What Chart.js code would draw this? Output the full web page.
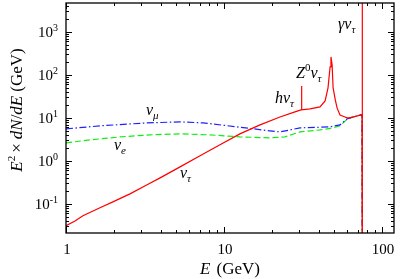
<!DOCTYPE html>
<html>
<head>
<meta charset="utf-8">
<script src="https://cdn.jsdelivr.net/npm/chart.js@4.4.1/dist/chart.umd.min.js"></script>
<style>
  html, body { margin: 0; padding: 0; background: #fff; }
  canvas { display: block; }
</style>
</head>
<body>
<canvas id="chart" width="400" height="279"></canvas>
<script>
// --- Data (E in GeV, E^2 dN/dE in GeV) ---
const tauE = [1.0, 1.14, 1.28, 1.64, 1.98, 2.54, 3.26, 3.94, 5.27, 7.05, 9.43, 12.6, 16.9, 22.6, 28.1, 30.7, 30.9, 31.1, 35.0, 40.5, 43.6, 45.5, 46.9, 47.5, 48.3, 49.0, 50.6, 51.9, 54.2, 58.3, 60.0, 62.7, 73.6, 74.7, 75.0, 75.0];
const tauFlux = [0.031, 0.040, 0.053, 0.081, 0.111, 0.171, 0.277, 0.402, 0.725, 1.31, 2.36, 4.25, 6.88, 10.5, 13.8, 15.3, 55, 15.4, 16.2, 18.0, 24.8, 49.9, 153, 262, 171, 49.9, 26.2, 17.1, 11.7, 10.5, 10.0, 10.0, 11.7, 12.0, 1e5, 1e-4];

const muE = [1.0, 1.64, 3.26, 5.27, 7.36, 12.1, 19.5, 22.6, 26.2, 30.3, 46.9, 54.2, 60.0, 62.7, 73.6, 74.7, 75.0];
const muFlux = [5.55, 6.52, 7.65, 8.07, 7.65, 6.18, 4.99, 4.72, 5.26, 5.85, 6.18, 6.88, 9.4, 10.0, 11.7, 11.8, 1e-4];

const eE = [1.0, 1.42, 2.2, 3.4, 5.27, 8.15, 12.6, 19.5, 24.3, 30.3, 40.5, 49.0, 54.2, 60.0, 62.7, 73.6, 74.7, 75.0];
const eFlux = [2.62, 3.08, 3.61, 4.03, 4.25, 4.03, 3.61, 3.43, 3.61, 4.72, 5.26, 5.85, 6.6, 9.2, 10.0, 11.7, 11.8, 1e-4];

const xRange = [1, 119];
const yRange = [0.021, 4700];
const xTickValues = [1, 10, 100];
const xTickLabels = ["1", "10", "100"];
const yTickValues = [0.1, 1, 10, 100, 1000];
const yTickExponents = ["-1", "0", "1", "2", "3"];

const SERIF = '"Liberation Serif", "DejaVu Serif", serif';

function toPoints(xs, ys) {
  return xs.map((x, i) => ({ x: x, y: ys[i] }));
}

function fontOf(p) {
  return (p.i ? "italic " : "") + (p.s || 15) + "px " + SERIF;
}

// draws a run of text pieces (italic / sub / superscript) starting at x
function drawRich(ctx, parts, x, y, align) {
  let w = 0;
  parts.forEach((p) => {
    ctx.font = fontOf(p);
    p.w = ctx.measureText(p.t).width + (p.gap || 0);
    w += p.w;
  });
  let cx = align === "center" ? x - w / 2 : align === "right" ? x - w : x;
  parts.forEach((p) => {
    ctx.font = fontOf(p);
    ctx.fillText(p.t, cx, y + (p.dy || 0));
    cx += p.w;
  });
}

// tick values (1..9 per decade) inside a range
function logTicks(min, max) {
  const out = [];
  for (let d = Math.floor(Math.log10(min)); d <= Math.ceil(Math.log10(max)); d++) {
    for (let m = 1; m <= 9; m++) {
      const v = m * Math.pow(10, d);
      if (v >= min * 0.999 && v <= max * 1.001) out.push({ v: v, major: m === 1 });
    }
  }
  return out;
}

const framePlugin = {
  id: "frame",
  afterDatasetsDraw(chart) {
    const ctx = chart.ctx;
    const a = chart.chartArea;
    const xs = chart.scales.x;
    const ys = chart.scales.y;
    ctx.save();
    ctx.strokeStyle = "#000";
    ctx.lineWidth = 1;

    // inward ticks on all four sides
    ctx.beginPath();
    logTicks(xRange[0], xRange[1]).forEach((t) => {
      const px = Math.round(xs.getPixelForValue(t.v)) + 0.5;
      const len = t.major ? 6 : 3;
      ctx.moveTo(px, a.bottom);
      ctx.lineTo(px, a.bottom - len);
      ctx.moveTo(px, a.top);
      ctx.lineTo(px, a.top + len);
    });
    logTicks(yRange[0], yRange[1]).forEach((t) => {
      const py = Math.round(ys.getPixelForValue(t.v)) + 0.5;
      const len = t.major ? 6 : 3;
      ctx.moveTo(a.left, py);
      ctx.lineTo(a.left + len, py);
      ctx.moveTo(a.right, py);
      ctx.lineTo(a.right - len, py);
    });
    ctx.stroke();

    ctx.lineWidth = 1.3;
    ctx.strokeRect(a.left, a.top, a.right - a.left, a.bottom - a.top);

    // tick labels
    ctx.fillStyle = "#000";
    ctx.textBaseline = "alphabetic";
    xTickValues.forEach((v, i) => {
      const px = xs.getPixelForValue(v);
      drawRich(ctx, [{ t: xTickLabels[i], s: 15 }], px + 1, 254, "center");
    });
    yTickValues.forEach((v, i) => {
      const py = ys.getPixelForValue(v);
      drawRich(ctx, [
        { t: "10", s: 15 },
        { t: yTickExponents[i], s: 10, dy: -6 }
      ], 58, py + 5, "right");
    });

    // axis titles
    drawRich(ctx, [{ t: "E", i: true, s: 17, gap: 2 }, { t: " (GeV)", s: 17 }], (a.left + a.right) / 2, 274, "center");
    ctx.save();
    ctx.translate(22, 110);
    ctx.rotate(-Math.PI / 2);
    drawRich(ctx, [
      { t: "E", i: true, s: 17 },
      { t: "2", s: 11, dy: -7, gap: 3 },
      { t: "\u00d7", s: 17, gap: 4 },
      { t: "dN", i: true, s: 17 },
      { t: "/", s: 17 },
      { t: "dE", i: true, s: 17, gap: 4 },
      { t: "(GeV)", s: 17 }
    ], 0, 0, "center");
    ctx.restore();

    // curve annotations
    drawRich(ctx, [{ t: "\u03bd", i: true, s: 16 }, { t: "\u03bc", i: true, s: 11, dy: 4 }], 146, 115);
    drawRich(ctx, [{ t: "\u03bd", i: true, s: 16 }, { t: "e", i: true, s: 11, dy: 4 }], 114, 150);
    drawRich(ctx, [{ t: "\u03bd", i: true, s: 16 }, { t: "\u03c4", i: true, s: 11, dy: 4 }], 180, 178);
    drawRich(ctx, [{ t: "h", i: true, s: 16 }, { t: "\u03bd", i: true, s: 16 }, { t: "\u03c4", i: true, s: 11, dy: 4 }], 275, 103);
    drawRich(ctx, [{ t: "Z", i: true, s: 16 }, { t: "0", s: 11, dy: -7 }, { t: "\u03bd", i: true, s: 16 }, { t: "\u03c4", i: true, s: 11, dy: 4 }], 296, 78);
    drawRich(ctx, [{ t: "\u03b3", i: true, s: 16 }, { t: "\u03bd", i: true, s: 16 }, { t: "\u03c4", i: true, s: 11, dy: 4 }], 338, 29);
    ctx.restore();
  }
};

new Chart(document.getElementById("chart"), {
  type: "line",
  data: {
    datasets: [
      {
        label: "nu_tau",
        data: toPoints(tauE, tauFlux),
        borderColor: "#ff0000",
        borderWidth: 1.2,
        pointRadius: 0,
        tension: 0
      },
      {
        label: "nu_mu",
        data: toPoints(muE, muFlux),
        borderColor: "#1f1fff",
        borderWidth: 1.2,
        borderDash: [7, 2.5, 1.5, 2.5],
        pointRadius: 0,
        tension: 0
      },
      {
        label: "nu_e",
        data: toPoints(eE, eFlux),
        borderColor: "#11ee11",
        borderWidth: 1.2,
        borderDash: [6, 3],
        pointRadius: 0,
        tension: 0
      }
    ]
  },
  options: {
    responsive: false,
    animation: false,
    layout: { padding: { top: 3, right: 6, left: 0, bottom: 0 } },
    plugins: {
      legend: { display: false },
      tooltip: { enabled: false }
    },
    scales: {
      x: {
        type: "logarithmic",
        min: xRange[0],
        max: xRange[1],
        grid: { display: false },
        border: { display: false },
        ticks: { display: false },
        afterFit(s) { s.height = 46; }
      },
      y: {
        type: "logarithmic",
        min: yRange[0],
        max: yRange[1],
        grid: { display: false },
        border: { display: false },
        ticks: { display: false },
        afterFit(s) { s.width = 66; }
      }
    }
  },
  plugins: [framePlugin]
});
</script>
</body>
</html>
